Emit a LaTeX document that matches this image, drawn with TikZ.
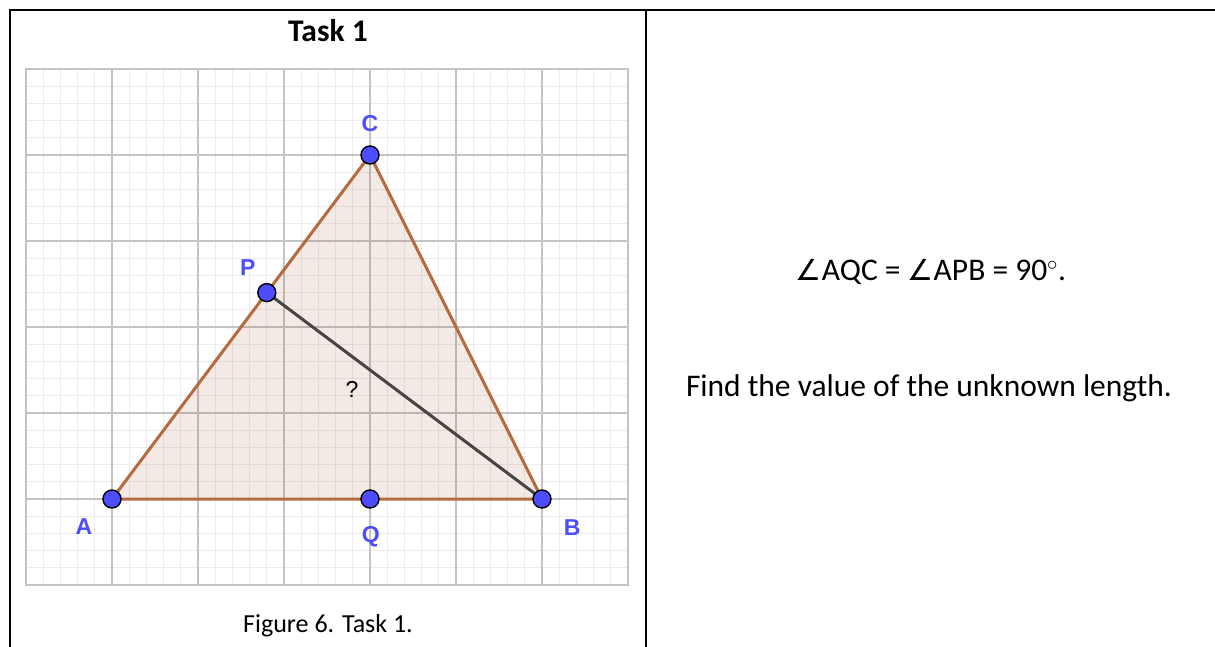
\documentclass[tikz,border=0pt]{standalone}
\usepackage{fontspec}
\setmainfont{Carlito}
\newfontfamily\lblfont{Liberation Sans}
\newfontfamily\symfont{DejaVu Sans}
\definecolor{ptblue}{RGB}{77,77,255}
\definecolor{edgec}{RGB}{182,106,64}
\definecolor{fillc}{RGB}{153,51,0}
\definecolor{minorc}{RGB}{236,236,236}
\definecolor{majorc}{RGB}{196,196,196}
\definecolor{segc}{RGB}{70,70,70}
\newcommand{\angsym}{{\symfont\fontsize{29}{34}\selectfont ∠}}
\begin{document}
\begin{tikzpicture}[x=1pt,y=-1pt,
  dot/.style={circle,fill=ptblue,draw=black,line width=1.4pt,inner sep=0pt,minimum size=18pt},
  lbl/.style={text=ptblue,font=\lblfont\bfseries\fontsize{23}{28}\selectfont},
  bigtext/.style={font=\fontsize{31.5}{36}\selectfont,anchor=base,inner sep=0pt},
  rule/.style={line width=2pt,black}]
\useasboundingbox (0,0) rectangle (1215,647);
\fill[white] (0,0) rectangle (1215,647);
% table frame
\coordinate (tl) at (10,10);
\coordinate (tr) at (1215,10);
\coordinate (bl) at (10,647);
\coordinate (tm) at (646,10);
\coordinate (bm) at (646,647);
\draw[rule] (bl) -- (tl) -- (tr);
\draw[rule] (tm) -- (bm);
% texts
\node[bigtext,font=\bfseries\fontsize{31.5}{36}\selectfont] (title) at (328,42) {Task 1};
\node[bigtext,font=\fontsize{26}{30}\selectfont] (caption) at (328,632) {Figure 6. Task 1.};
\node[bigtext] (angles) at (931,280) {\angsym AQC = \angsym APB = 90$^\circ$.};
\node[bigtext] (find) at (929,396) {Find the value of the unknown length.};
% figure
\begin{scope}[shift={(112,499)},x=86pt,y=86pt]
  \draw[minorc,line width=1pt,step=0.2] (-1,-1) grid (6,5);
  \draw[majorc,line width=1.5pt,step=1] (-1,-1) grid (6,5);
  \draw[majorc,line width=2pt] (-1,-1) rectangle (6,5);
  \coordinate (A) at (0,0);
  \coordinate (B) at (5,0);
  \coordinate (C) at (3,4);
  \coordinate (P) at (1.8,2.4);
  \coordinate (Q) at (3,0);
  \filldraw[fill=fillc,fill opacity=0.1,draw=edgec,line width=3pt,line join=round] (A) -- (B) -- (C) -- cycle;
  \draw[segc,line width=3pt] (P) -- (B);
  \node[dot] (nA) at (A) {};
  \node[dot] (nB) at (B) {};
  \node[dot] (nC) at (C) {};
  \node[dot] (nP) at (P) {};
  \node[dot] (nQ) at (Q) {};
  \node[lbl] (lA) at (-0.326,-0.326) {A};
  \node[lbl] (lB) at (5.35,-0.33) {B};
  \node[lbl] (lC) at (3,4.36) {C};
  \node[lbl] (lP) at (1.58,2.69) {P};
  \node[lbl] (lQ) at (3.01,-0.44) {Q};
  \node[font=\lblfont\fontsize{23}{27}\selectfont] (qm) at (2.79,1.27) {?};
\end{scope}
\end{tikzpicture}
\end{document}
